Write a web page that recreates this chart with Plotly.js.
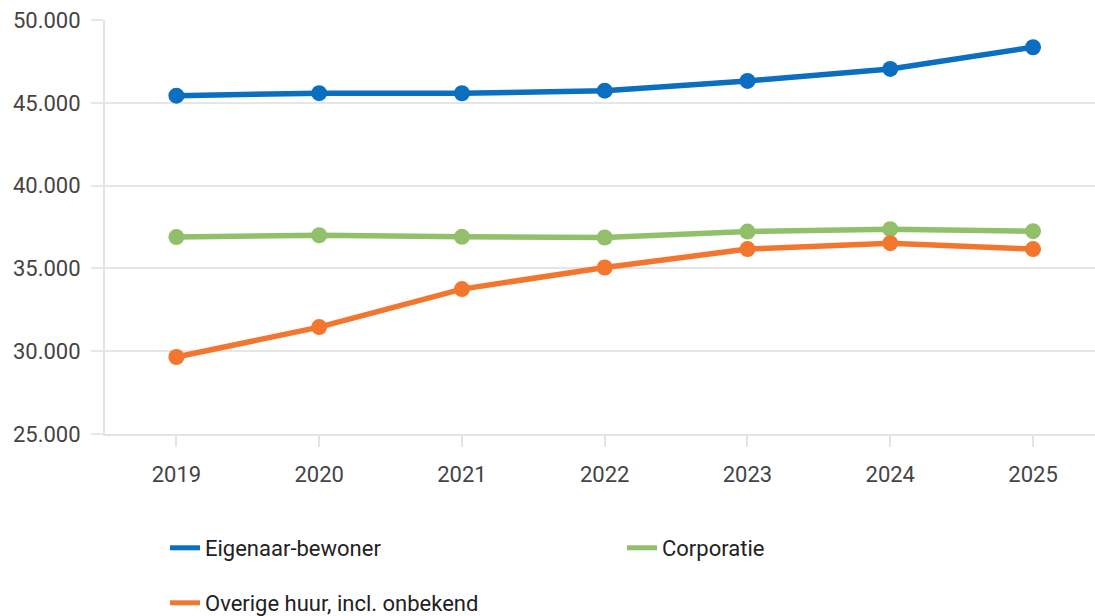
<!DOCTYPE html>
<html>
<head>
<meta charset="utf-8">
<script src="https://cdn.plot.ly/plotly-3.0.1.min.js"></script>
<style>html,body{margin:0;padding:0;background:#fff;}#chart{width:1095px;height:616px;}</style>
</head>
<body>
<div id="chart"></div>
<script>
const years = ['2019', '2020', '2021', '2022', '2023', '2024', '2025'];
const eigenaarBewoner = [45430, 45580, 45575, 45735, 46320, 47045, 48355];
const corporatie = [36890, 37000, 36905, 36865, 37225, 37370, 37250];
const overigeHuur = [29650, 31455, 33750, 35055, 36165, 36525, 36165];
const seriesNames = ['Eigenaar-bewoner', 'Corporatie', 'Overige huur, incl. onbekend'];
const colors = ['#0a6fc1', '#92bf6a', '#f3762f'];
const yTicks = [25000, 30000, 35000, 40000, 45000, 50000];

const seriesValues = [eigenaarBewoner, corporatie, overigeHuur];
const legendIds = ['legend', 'legend2', 'legend3'];
const traces = [];
seriesValues.forEach((vals, i) => {
  traces.push({
    type: 'scatter', mode: 'lines+markers', x: years, y: vals, name: seriesNames[i],
    line: {color: colors[i], width: 5.5}, marker: {color: colors[i], size: 16},
    showlegend: false, hoverinfo: 'x+y'
  });
});
seriesValues.forEach((vals, i) => {
  traces.push({
    type: 'scatter', mode: 'lines', x: [null], y: [null], name: seriesNames[i],
    line: {color: colors[i], width: 5}, showlegend: true,
    legend: legendIds[i]
  });
});

function legendAt(xpx, ypx) {
  return {
    orientation: 'h', xref: 'container', yref: 'container',
    x: xpx / 1095, y: 1 - ypx / 616,
    xanchor: 'left', yanchor: 'middle',
    font: {family: 'Roboto', size: 22, color: '#222'},
    bgcolor: 'rgba(0,0,0,0)', itemclick: false, itemdoubleclick: false
  };
}

const layout = {
  width: 1095, height: 616,
  margin: {l: 105, r: 0, t: 20, b: 182},
  paper_bgcolor: '#fff', plot_bgcolor: '#fff',
  separators: ',.',
  font: {family: 'Roboto', size: 22, color: '#444'},
  xaxis: {
    type: 'category', range: [-0.5, 6.434],
    showgrid: false, zeroline: false,
    showline: true, linecolor: '#e3e3e3', linewidth: 2,
    ticks: 'outside', ticklen: 11, tickwidth: 1.5, tickcolor: '#e3e3e3',
    ticklabelstandoff: 9,
    tickfont: {family: 'Roboto', size: 22, color: '#444'},
    fixedrange: true
  },
  yaxis: {
    range: [25000, 50000], tickvals: yTicks, tickformat: ',d',
    showgrid: true, gridcolor: '#e6e6e6', gridwidth: 2,
    zeroline: false, showline: true, linecolor: '#e3e3e3', linewidth: 2,
    ticks: 'outside', ticklen: 12, tickwidth: 2, tickcolor: '#e6e6e6',
    ticklabelstandoff: 6,
    tickfont: {family: 'Roboto', size: 22, color: '#444'},
    fixedrange: true
  },
  legend: legendAt(165, 548),
  legend2: legendAt(622, 548),
  legend3: legendAt(165, 603),
  hovermode: 'closest'
};

Plotly.newPlot('chart', traces, layout, {displayModeBar: false, responsive: false});
</script>
</body>
</html>
